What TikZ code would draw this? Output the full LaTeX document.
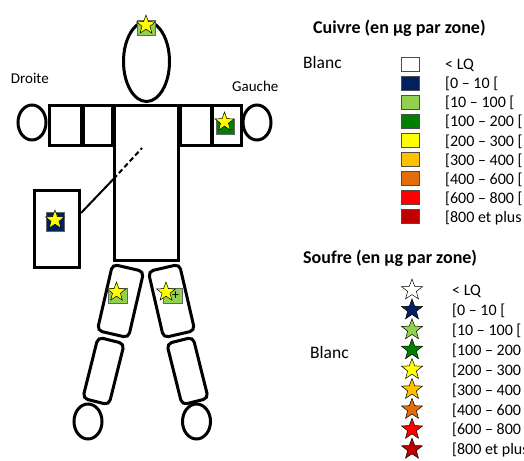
\documentclass[tikz,border=0pt]{standalone}
\usepackage{fontspec}
\setmainfont{Carlito}
\usetikzlibrary{shapes.geometric}
\definecolor{cnavy}{HTML}{002060}
\definecolor{clime}{HTML}{92D050}
\definecolor{cgreen}{HTML}{008000}
\definecolor{cyellow}{HTML}{FFFF00}
\definecolor{camber}{HTML}{FFC000}
\definecolor{corange}{HTML}{E46C0A}
\definecolor{cred}{HTML}{FF0000}
\definecolor{cdarkred}{HTML}{C00000}
\begin{document}
\begin{tikzpicture}[x=1pt, y=-1pt,
    part/.style={draw, line width=3pt, fill=white, inner sep=0pt},
    limb/.style={part, rectangle, rounded corners=5pt},
    oval/.style={part, ellipse},
    zone/.style={rectangle, draw=black!60, line width=0.6pt, inner sep=0pt,
      minimum width=18pt, minimum height=15pt},
    spot/.style={star, star points=5, star point ratio=2.4, draw, line width=0.5pt,
      inner sep=0pt, minimum size=20pt},
    key/.style={rectangle, draw=black!70, line width=0.8pt, inner sep=0pt,
      minimum width=18pt, minimum height=14pt},
    lbl/.style={anchor=west, inner sep=0pt, font=\fontsize{16}{19}\selectfont},
    strap/.style={line width=2pt}
  ]
  \useasboundingbox (0,0) rectangle (524,460);

  % Body
  \node[oval, minimum width=46pt, minimum height=80pt] (head) at (146.5,61.5) {};
  \node[part, minimum width=64pt, minimum height=155pt] (torso) at (146,183) {};
  \node[part, minimum width=32pt, minimum height=40pt] (rarm1) at (65,125) {};
  \node[part, minimum width=29pt, minimum height=40pt] (rarm2) at (98,125) {};
  \node[part, minimum width=31pt, minimum height=40pt] (larm1) at (196,125) {};
  \node[part, minimum width=29pt, minimum height=40pt] (larm2) at (227,125) {};
  \node[oval, minimum width=28pt, minimum height=35pt] (rhand) at (32,122.5) {};
  \node[oval, minimum width=28pt, minimum height=35pt] (lhand) at (257,122.5) {};
  \node[limb, minimum width=32pt, minimum height=68pt, rotate=-13] (rthigh) at (120.5,301) {};
  \node[limb, minimum width=27pt, minimum height=63pt, rotate=-14] (rshin) at (103.5,371) {};
  \node[limb, minimum width=32pt, minimum height=68pt, rotate=13] (lthigh) at (171.5,301) {};
  \node[limb, minimum width=27pt, minimum height=63pt, rotate=14] (lshin) at (187.5,371) {};
  \node[oval, minimum width=28pt, minimum height=35pt] (rfoot) at (88,421.5) {};
  \node[oval, minimum width=28pt, minimum height=35pt] (lfoot) at (196.5,421.5) {};

  % Held box and its strap
  \node[part, minimum width=45pt, minimum height=77pt] (bag) at (57,229) {};
  \coordinate (grip) at (81,213);
  \coordinate (entry) at (113.5,179);
  \coordinate (tip) at (142,148);
  \draw[strap] (grip) -- (entry);
  \draw[strap, dash pattern=on 5pt off 3pt] (entry) -- (tip);

  % Side labels
  \node[anchor=base west, inner sep=0pt, font=\fontsize{15}{18}\selectfont] (droite) at (10.7,83) {Droite};
  \node[anchor=base west, inner sep=0pt, font=\fontsize{15}{18}\selectfont] (gauche) at (232,91) {Gauche};

  % Zones measured
  \node[zone, fill=clime] (zhead) at (146,28) {};
  \node[spot, fill=cyellow] (shead) at (146,25) {};
  \node[zone, fill=cgreen] (zarm) at (225,126.5) {};
  \node[spot, fill=cyellow] (sarm) at (224.5,122) {};
  \node[zone, fill=cnavy, minimum height=19pt] (zbag) at (55,222) {};
  \node[spot, fill=cyellow] (sbag) at (55,220) {};
  \node[zone, fill=clime, minimum width=19pt] (zrthigh) at (117.5,295.5) {};
  \node[spot, fill=cyellow] (srthigh) at (116.5,292) {};
  \node[zone, fill=clime, minimum width=19pt] (zlthigh) at (172.5,295.5) {};
  \node[inner sep=0pt, font=\fontsize{14}{14}\selectfont] (plus) at (175.5,296) {+};
  \node[spot, fill=cyellow] (slthigh) at (166,292) {};

  % Copper legend
  \node[anchor=base west, inner sep=0pt, font=\bfseries\fontsize{18}{20}\selectfont] (cutitle) at (313,34) {Cuivre (en µg par zone)};
  \node[anchor=west, inner sep=0pt, font=\fontsize{17.5}{20}\selectfont] (cublanc) at (303,62) {Blanc};
  \foreach \col/\lab [count=\i from 0] in {white/{< LQ}, cnavy/{[0 – 10 [}, clime/{[10 – 100 [},
      cgreen/{[100 – 200 [}, cyellow/{[200 – 300 [}, camber/{[300 – 400 [},
      corange/{[400 – 600 [}, cred/{[600 – 800 [}, cdarkred/{[800 et plus}} {
    \node[key, fill=\col] (cu\i) at (410,64+19.1*\i) {};
    \node[lbl] (cul\i) at (445,65+19.1*\i) {\lab};
  }

  % Sulfur legend
  \node[anchor=base west, inner sep=0pt, font=\bfseries\fontsize{18}{20}\selectfont] (sftitle) at (303,263) {Soufre (en µg par zone)};
  \node[anchor=west, inner sep=0pt, font=\fontsize{17.5}{20}\selectfont] (sfblanc) at (310,352) {Blanc};
  \foreach \col/\lab [count=\i from 0] in {white/{< LQ}, cnavy/{[0 – 10 [}, clime/{[10 – 100 [},
      cgreen/{[100 – 200 [}, cyellow/{[200 – 300 [}, camber/{[300 – 400 [},
      corange/{[400 – 600 [}, cred/{[600 – 800 [}, cdarkred/{[800 et plus}} {
    \node[spot, fill=\col, minimum size=22pt] (sf\i) at (412,290+19.9*\i) {};
    \node[lbl] (sfl\i) at (452,291+19.9*\i) {\lab};
  }
\end{tikzpicture}
\end{document}
